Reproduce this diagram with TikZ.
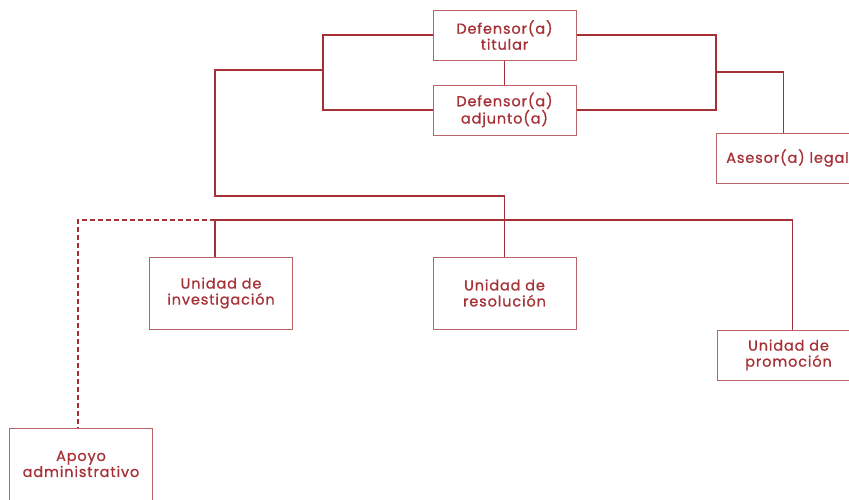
\documentclass[tikz,border=0pt]{standalone}
\usepackage{fontspec}
\setmainfont{Poppins}[LetterSpace=6,FakeBold=0.8]
\usetikzlibrary{positioning}
\definecolor{orgred}{RGB}{165,48,54}
\tikzset{unit box/.style={rectangle,draw=orgred!75,line width=1pt,text=orgred,minimum width=143pt,minimum height=50pt,align=center,inner sep=2pt,font=\fontsize{14.5}{16}\selectfont},
         tall box/.style={unit box,minimum height=72pt},
         org line/.style={draw=orgred,line width=1.6pt},
         dashed line/.style={org line,dash pattern=on 5pt off 3pt}
}

\begin{document}
\begin{tikzpicture}[x=1pt,y=-1pt]
\useasboundingbox (0,0) rectangle (849,499);
\clip (0,0) rectangle (849,499);
% boxes
\node[unit box] (titular) at (504.5,35) {Defensor(a)\\titular};
\node[unit box] (adjunto) at (504.5,110) {Defensor(a)\\adjunto(a)};
\node[unit box] (asesor) at (787.5,158) {Asesor(a) legal};
\node[tall box] (investigacion) at (221,293) {Unidad de\\investigación};
\node[tall box] (resolucion) at (504.5,293) {Unidad de\\resolución};
\node[unit box] (promocion) at (788.5,355) {Unidad de\\promoción};
\node[tall box] (apoyo) at (81,464) {Apoyo\\administrativo};
% joints
\coordinate (left bracket) at (323,70);
\coordinate (right bracket) at (716,72);
\coordinate (stem) at (215,196);
\coordinate (bus) at (215,220);
\draw[org line] (titular) -- (adjunto);
\draw[org line] (titular.west) -| (left bracket |- adjunto.west) -- (adjunto.west);
\draw[org line] (titular.east) -| (right bracket |- adjunto.east) -- (adjunto.east);
\draw[org line] (right bracket) -| ([xshift=-4]asesor.north);
\draw[org line] (left bracket) -| (stem) -| (resolucion.north);
\draw[org line] (bus) -| ([xshift=4]promocion.north);
\draw[org line] (bus) -- (bus |- investigacion.north);
\draw[dashed line] (bus) -| ([xshift=-3]apoyo.north);
\end{tikzpicture}
\end{document}
